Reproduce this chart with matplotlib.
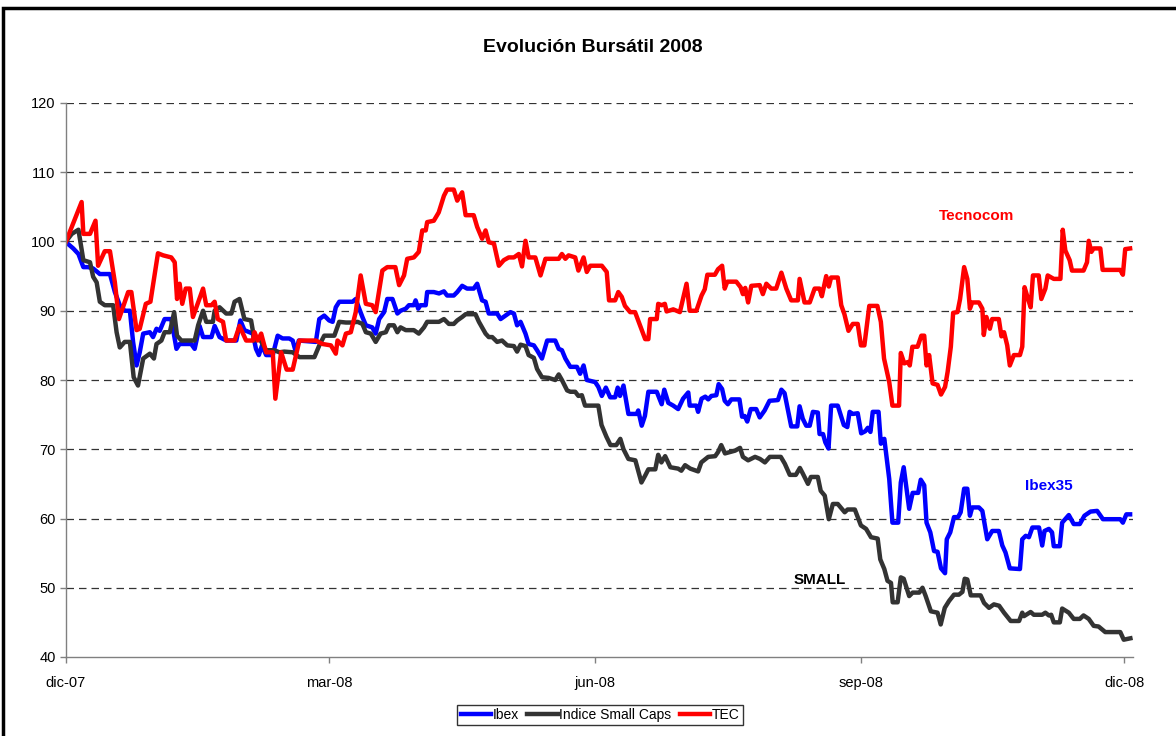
import matplotlib
matplotlib.use("Agg")
import matplotlib.pyplot as plt
from matplotlib.patches import Rectangle
import pandas as pd

plt.rcParams["font.family"] = ["Liberation Sans", "DejaVu Sans"]

START = pd.Timestamp("2007-12-01")

# days since 1-dic-2007 (base 100)
ibex_days = [0, 2.5, 4.3, 6, 7.7, 9.4, 11.7, 15.2, 16.9, 18.6, 20.3, 22.1, 23.2, 24.4, 25.5, 26.7, 29.0, 30.1,
             31.3, 32.4, 34.1, 36.4, 38.2, 39.3, 43.3, 44.5, 46.2, 47.4, 50.3, 51.4, 53.1, 55.4, 58.9, 60.3,
             61.7, 64.6, 65.7, 66.7, 67.8, 69.2, 71.5, 73.2, 74.9, 77.2, 78.4, 79.5, 80.5, 86.4, 87.6, 89.3,
             91.0, 92.2, 93.3, 94.5, 99.1, 100.2, 101.4, 102.5, 103.7, 105.9, 107.1, 108.3, 110.0, 111.1,
             112.9, 114.6, 115.7, 117.5, 118.6, 120.3, 120.9, 121.8, 122.6, 124.4, 124.9, 127.2, 129.0,
             130.7, 131.8, 134.1, 135.3, 137.0, 138.7, 141.0, 142.2, 143.9, 145.1, 146.2, 149.1, 150.3,
             152.0, 153.7, 154.9, 156.0, 157.2, 158.9, 160.0, 161.8, 162.9, 164.6, 166.4, 169.2, 170.4,
             171.5, 172.7, 174.4, 176.7, 177.8, 179.0, 180.1, 183.0, 184.1, 185.3, 186.7, 188.2, 189.9,
             190.8, 191.6, 192.8, 194.5, 197.4, 197.9, 199.1, 200.2, 201.4, 204.3, 206.0, 206.9, 208.3,
             210.0, 211.7, 213.4, 215.2, 215.7, 218.0, 218.6, 219.8, 221.1, 222.1, 223.2, 224.9, 225.7,
             226.9, 227.8, 228.9, 230.1, 232.9, 233.8, 234.7, 235.6, 236.8, 238.7, 239.9, 241.6, 243.3,
             246.2, 247.4, 248.5, 249.7, 250.8, 252.9, 253.7, 254.8, 256.0, 257.2, 258.3, 260.0, 260.6,
             261.8, 262.6, 263.7, 264.6, 266.9, 269.0, 270.2, 271.0, 272.1, 273.8, 275.0, 276.4, 277.3,
             278.2, 279.0, 281.0, 281.8, 283.0, 284.7, 285.8, 287.8, 288.7, 289.7, 291.6, 292.8, 294.7,
             295.6, 296.8, 297.6, 298.9, 300.2, 301.4, 302.6, 304.0, 304.6, 305.8, 307.1, 308.5, 309.4,
             310.6, 311.7, 312.6, 313.4, 315.7, 316.9, 318.6, 320.3, 322.6, 323.8, 324.9, 326.4, 329.9,
             330.7, 331.9, 333.0, 334.2, 336.5, 337.6, 338.4, 339.9, 341.0, 341.6, 343.7, 344.5, 346.8,
             348.5, 350.6, 352.2, 354.3, 356.6, 358.6, 364.6, 365.5, 366.7, 368.0]
ibex_vals = [99.9, 99.0, 98.2, 96.3, 96.3, 96.1, 95.3, 95.3, 92.7, 90.8, 90.0, 90.0, 85.5, 82.1, 84.0, 86.7, 86.9, 86.2,
             87.4, 87.1, 88.8, 88.8, 84.5, 85.2, 85.2, 84.5, 87.8, 86.2, 86.2, 87.8, 86.2, 85.7, 85.7, 88.6,
             87.2, 86.7, 84.5, 83.6, 85.0, 83.6, 83.6, 86.4, 86.0, 86.0, 85.7, 84.0, 85.7, 85.5, 88.8, 89.3,
             88.6, 88.4, 90.5, 91.3, 91.3, 91.7, 90.3, 89.1, 87.9, 87.6, 86.7, 88.8, 89.8, 91.7,
             91.7, 89.6, 90.0, 90.3, 90.8, 90.8, 91.5, 90.3, 90.8, 90.8, 92.7, 92.7, 92.5,
             92.8, 92.2, 92.2, 92.7, 93.6, 93.2, 93.2, 93.9, 91.5, 91.3, 89.6, 89.6, 88.8,
             89.3, 89.8, 89.6, 87.9, 88.4, 86.7, 85.2, 85.0, 84.3, 83.1, 85.7, 85.7, 84.5,
             84.3, 83.1, 81.9, 81.9, 80.9, 82.1, 80.0, 79.7, 79.0, 77.7, 78.9, 77.5, 77.5,
             78.9, 77.7, 79.2, 75.1, 75.1, 75.6, 73.4, 74.8, 78.3, 78.3, 76.5, 78.6, 76.7,
             76.3, 75.8, 77.3, 78.2, 76.3, 76.3, 75.4, 77.3, 77.6, 77.2, 77.7, 77.8, 79.4,
             78.7, 77.0, 76.5, 77.2, 77.2, 74.7, 74.8, 74.0, 75.8, 75.8, 74.6, 75.6, 77.0,
             77.1, 78.6, 78.1, 75.6, 73.3, 73.3, 76.2, 74.4, 73.4, 73.4, 75.4, 75.3, 72.2,
             72.2, 71.0, 70.1, 76.3, 76.3, 73.5, 73.2, 75.4, 75.1, 75.2, 72.3, 72.6, 73.1,
             72.5, 75.4, 75.4, 70.8, 71.5, 65.7, 59.4, 59.4, 65.2, 67.4, 61.4, 63.7, 63.7,
             65.6, 64.8, 59.4, 58.0, 55.3, 55.2, 52.8, 52.1, 57.0, 58.0, 60.2, 60.2, 60.9,
             64.3, 64.3, 60.4, 61.6, 61.6, 61.1, 57.0, 58.2, 58.2, 56.1, 55.1, 52.8, 52.7,
             57.0, 57.5, 57.3, 58.7, 58.7, 56.1, 58.2, 58.5, 58.0, 56.0, 56.0, 59.4, 60.5,
             59.2, 59.2, 60.4, 61.0, 61.1, 59.9, 59.9, 59.4, 60.6, 60.6]

small_days = [0, 2.0, 4.3, 6, 8.3, 9.4, 10.6, 11.7, 13.4, 16.3, 17.5, 18.6, 20.3, 22.1, 23.4, 24.9, 26.7, 29.0,
              30.4, 31.3, 33.0, 34.1, 35.9, 37.4, 38.4, 39.9, 44.5, 45.7, 47.4, 48.5, 50.8, 51.4, 53.1, 55.4,
              57.2, 58.3, 60.0, 61.7, 64.0, 65.2, 66.9, 69.2, 72.0, 73.8, 75.5, 78.4, 80.7, 85.9, 87.6, 89.3,
              91.0, 92.8, 94.5, 96.8, 99.1, 100.8, 102.5, 103.7, 105.4, 107.1, 108.8, 110.6, 111.7, 113.4,
              114.6, 115.7, 117.5, 120.3, 122.0, 123.8, 124.9, 129.0, 130.7, 132.4, 134.1, 135.3, 137.0,
              138.2, 141.6, 142.8, 143.9, 145.1, 146.2, 147.4, 149.1, 150.8, 152.6, 154.9, 156.0, 157.2,
              158.9, 160.0, 161.8, 162.9, 164.6, 166.9, 169.2, 170.4, 171.5, 173.3, 174.4, 176.1, 177.2,
              178.4, 179.5, 180.7, 184.1, 185.2, 186.9, 188.3, 190.3, 191.7, 192.8, 194.5, 196.9, 199.0,
              200.3, 201.4, 203.8, 204.8, 205.9, 207.2, 209.0, 211.7, 212.8, 214.1, 215.9, 218.6, 219.7,
              222.1, 224.5, 225.5, 226.6, 227.9, 229.7, 231.4, 233.1, 234.1, 235.9, 238.3, 240.0, 241.7,
              243.4, 247.2, 248.6, 250.3, 252.4, 253.8, 254.8, 256.6, 257.6, 260.0, 261.0, 262.4, 263.8,
              265.2, 266.9, 269.3, 270.3, 272.8, 274.9, 276.7, 278.4, 280.7, 281.6, 283.0, 284.1, 285.3,
              285.9, 287.6, 288.7, 289.7, 291.6, 292.8, 295.1, 296.2, 297.3, 299.1, 301.4, 302.5, 303.9,
              305.4, 307.1, 308.8, 310.0, 310.8, 311.7, 312.9, 316.3, 317.5, 319.2, 320.9, 322.7, 324.4,
              326.7, 329.6, 330.7, 331.3, 333.6, 334.7, 337.6, 338.7, 339.9, 340.7, 341.6, 343.7, 344.5,
              346.8, 348.5, 350.6, 351.9, 353.7, 355.4, 357.1, 359.4, 364.6, 365.8, 368.1]
small_vals = [100.0, 101.1, 101.7, 97.3, 97.0, 94.9, 94.1, 91.3, 90.8, 90.8, 86.9, 84.7, 85.5, 85.5, 80.4, 79.2, 83.1, 83.8,
              83.1, 85.2, 85.7, 86.9, 86.9, 89.8, 86.4, 85.7, 85.7, 87.9, 90.0, 88.4, 88.4, 90.0, 90.5, 89.6,
              89.6, 91.3, 91.7, 88.8, 88.6, 85.7, 86.0, 84.3, 84.3, 84.0, 84.1, 84.0, 83.3, 83.3, 85.0, 86.4,
              86.4, 86.4, 88.4, 88.3, 88.3, 88.4, 88.1, 86.9, 86.7, 85.5, 86.7, 86.9, 87.9, 87.9,
              86.9, 87.6, 87.2, 87.2, 86.7, 87.6, 88.4, 88.4, 88.8, 88.1, 88.1, 88.6, 89.1,
              89.5, 89.5, 88.4, 87.6, 86.7, 86.2, 86.2, 85.5, 85.7, 85.0, 84.9, 84.1, 85.1,
              84.9, 83.6, 83.2, 81.6, 80.4, 80.3, 80.0, 80.8, 80.0, 78.5, 78.3, 78.3, 77.7,
              77.8, 76.3, 76.3, 76.3, 73.5, 71.8, 70.6, 70.6, 71.5, 70.0, 68.6, 68.4, 65.2,
              66.2, 67.1, 67.1, 69.2, 68.1, 69.0, 67.4, 67.2, 66.9, 67.7, 67.2, 66.8, 68.1,
              68.9, 69.0, 69.6, 70.6, 69.4, 69.6, 69.8, 70.2, 68.9, 68.4, 68.9, 68.6, 68.1,
              68.9, 68.9, 67.9, 66.3, 66.3, 67.3, 66.5, 65.0, 66.0, 66.0, 64.0, 63.3, 59.9,
              62.1, 62.1, 60.9, 61.3, 61.3, 59.0, 58.5, 57.3, 57.1, 54.1, 52.7, 51.0, 50.7,
              47.9, 47.9, 51.5, 51.3, 48.8, 49.3, 49.3, 50.0, 48.8, 46.6, 46.4, 44.7, 47.1,
              48.1, 49.0, 49.0, 49.4, 51.3, 51.2, 48.9, 48.9, 47.8, 47.1, 47.6, 47.4, 46.4,
              45.2, 45.2, 46.4, 45.9, 46.5, 46.1, 46.1, 46.4, 46.0, 46.1, 45.0, 45.0, 47.0,
              46.4, 45.5, 45.5, 46.0, 45.5, 44.5, 44.4, 43.6, 43.6, 42.5, 42.7]

tec_days = [0, 5.4, 6, 8.3, 10.2, 11.1, 13.4, 15.2, 16.9, 18.3, 21.5, 22.6, 24.4, 25.5, 27.6, 29.2, 31.8, 33.6,
            36.4, 37.6, 38.4, 39.3, 40.2, 41.4, 42.8, 43.9, 47.4, 48.5, 50.3, 51.4, 52.5, 54.3, 55.4, 58.3,
            60, 62.3, 64.6, 65.2, 66.3, 67.5, 69.2, 71.5, 72.4, 74.4, 76.3, 78.4, 80.7, 86.4, 88.7, 91.6,
            93.3, 93.9, 95.6, 96.8, 98.5, 100.2, 101.9, 103.7, 105.9, 107.1, 109.4, 111.1, 113.9, 115.2,
            116.9, 118.0, 120.3, 122.0, 123.2, 124.4, 124.9, 127.2, 128.9, 130.7, 131.8, 134.1, 135.3,
            137.0, 138.2, 141.0, 142.2, 143.9, 145.1, 146.2, 148.0, 149.7, 151.4, 153.1, 154.9, 156.6,
            157.7, 158.9, 160.0, 162.3, 164.1, 165.8, 170.4, 171.5, 172.7, 173.8, 176.1, 177.2, 179.0,
            180.1, 181.3, 183.6, 185.3, 187.0, 187.8, 189.9, 191.0, 192.2, 193.3, 195.1, 196.8, 198.5,
            200.3, 201.4, 202.0, 204.3, 204.8, 206.0, 207.1, 207.7, 210.0, 212.3, 214.6, 215.7, 218.0,
            219.8, 220.9, 221.8, 224.4, 225.5, 226.9, 227.8, 228.7, 231.8, 233.3, 234.1, 234.9, 235.9,
            237.0, 239.9, 241.0, 242.2, 243.9, 245.6, 247.4, 249.1, 250.8, 253.1, 253.7, 255.4, 257.2,
            258.9, 260.6, 261.4, 262.9, 263.8, 264.6, 266.9, 268.1, 269.2, 270.6, 272.1, 273.8, 274.9,
            276.1, 277.8, 280.6, 281.8, 282.9, 284.7, 285.8, 288.1, 288.7, 289.9, 291.2, 291.8, 292.7,
            294.5, 295.8, 296.8, 297.6, 298.5, 299.7, 301.4, 302.6, 304.0, 304.9, 306.0, 306.8, 308.3,
            309.2, 310.6, 311.7, 312.6, 313.4, 315.7, 316.9, 317.4, 318.3, 319.5, 320.3, 322.6, 323.5,
            324.4, 325.5, 326.4, 327.8, 329.9, 330.7, 331.5, 332.7, 333.6, 334.4, 336.4, 337.3, 338.7,
            339.5, 341.6, 343.9, 344.7, 345.6, 347.1, 347.9, 351.9, 353.1, 353.7, 354.6, 355.4, 357.7,
            358.5, 364.6, 365.5, 366.3, 368.0]
tec_vals = [100.0, 105.7, 101.1, 101.1, 103.0, 96.5, 98.6, 98.6, 94.1, 88.8, 92.7, 92.7, 87.2, 87.4, 91.0, 91.3, 98.3, 98.0,
            97.7, 97.0, 91.7, 93.9, 91.0, 93.2, 93.2, 89.1, 93.2, 90.8, 90.8, 91.3, 88.8, 88.4, 85.7, 85.7,
            87.8, 85.7, 85.7, 86.9, 85.7, 86.7, 84.0, 84.0, 77.3, 84.0, 81.5, 81.5, 85.7, 85.7, 85.2, 85.0,
            83.8, 85.7, 85.0, 86.7, 86.9, 89.8, 95.1, 91.0, 90.8, 89.8, 95.8, 96.3, 96.3, 93.7,
            95.1, 97.5, 97.7, 98.5, 101.6, 101.6, 102.8, 103.0, 104.2, 106.6, 107.5, 107.5, 105.9,
            107.1, 103.8, 103.8, 102.1, 100.4, 101.6, 99.9, 99.7, 96.5, 97.3, 97.7, 97.7, 98.2,
            96.4, 100.1, 97.7, 97.7, 95.1, 97.5, 97.5, 98.2, 97.5, 98.0, 97.7, 95.8, 97.7,
            95.6, 96.5, 96.5, 96.5, 95.6, 91.5, 91.5, 92.7, 92.0, 90.7, 89.8, 89.8, 87.9,
            85.9, 85.9, 88.8, 88.8, 91.0, 90.8, 91.0, 89.9, 90.2, 89.8, 93.9, 90.0, 90.0,
            92.2, 93.1, 95.2, 95.2, 96.0, 96.5, 93.2, 94.2, 94.2, 93.4, 92.4, 93.3, 91.2,
            93.6, 93.7, 92.4, 93.9, 93.2, 93.2, 95.5, 93.2, 91.5, 91.5, 94.6, 91.2, 91.2,
            93.2, 93.2, 92.1, 95.0, 93.5, 94.8, 94.8, 90.8, 89.5, 87.1, 88.1, 88.1, 85.0,
            85.0, 90.7, 90.7, 88.4, 83.1, 79.7, 76.3, 76.3, 83.9, 82.4, 82.6, 82.1, 84.8,
            84.8, 86.4, 86.4, 82.1, 83.6, 79.5, 79.3, 77.9, 79.0, 81.2, 84.8, 89.7, 89.8,
            91.7, 96.3, 94.6, 90.3, 91.2, 91.2, 90.3, 86.5, 89.1, 87.4, 88.8, 88.8, 86.3,
            86.9, 85.0, 82.1, 83.6, 83.6, 84.8, 93.4, 91.7, 90.5, 95.1, 95.1, 91.7, 93.2,
            95.1, 94.6, 94.6, 101.7, 98.7, 97.3, 95.8, 95.8, 97.0, 100.1, 98.5, 99.0, 99.0,
            95.9, 95.9, 95.2, 98.9, 99.0]

tick_dates = ["2007-12-01", "2008-03-01", "2008-06-01", "2008-09-01", "2008-12-01"]
tick_labels = ["dic-07", "mar-08", "jun-08", "sep-08", "dic-08"]


def to_dates(days):
    return START + pd.to_timedelta(days, unit="D")


fig = plt.figure(figsize=(11.76, 7.36), dpi=100)
ax = fig.add_axes([66 / 1176, 1 - 657 / 736, (1133 - 66) / 1176, (657 - 103) / 736])

ax.plot(to_dates(ibex_days), ibex_vals, color="#0000FF", linewidth=3.2, label="Ibex")
ax.plot(to_dates(small_days), small_vals, color="#333333", linewidth=3.2, label="Indice Small Caps")
ax.plot(to_dates(tec_days), tec_vals, color="#FF0000", linewidth=3.2, label="TEC")

ax.set_ylim(40, 120)
ax.set_yticks(range(40, 121, 10))
ax.set_xlim(START, START + pd.Timedelta(days=369))
ax.set_xticks(pd.to_datetime(tick_dates))
ax.set_xticklabels(tick_labels)

for v in range(50, 121, 10):
    ax.axhline(v, color="#333333", linewidth=0.9, dashes=(6, 4), zorder=0)

for s in ("top", "right"):
    ax.spines[s].set_visible(False)
for s in ("left", "bottom"):
    ax.spines[s].set_color("#808080")
    ax.spines[s].set_linewidth(1)
ax.tick_params(axis="both", colors="#808080", labelcolor="black", labelsize=10.5, length=4, width=1)
ax.tick_params(axis="x", pad=10)

ax.text(to_dates([315])[0], 103.7, "Tecnocom", color="#FF0000", fontsize=11, fontweight="bold", ha="center", va="center")
ax.text(to_dates([340])[0], 64.7, "Ibex35", color="#0000FF", fontsize=11, fontweight="bold", ha="center", va="center")
ax.text(to_dates([260.7])[0], 51.1, "SMALL", color="black", fontsize=11, fontweight="bold", ha="center", va="center")

fig.text(593 / 1176, 1 - 47 / 736, "Evolución Bursátil 2008", fontsize=14, fontweight="bold", ha="center", va="center")

leg = fig.legend(loc="center", bbox_to_anchor=(600 / 1176, 1 - 715 / 736), ncol=3, fontsize=10,
                 frameon=True, fancybox=False, handlelength=2.2, handletextpad=0.1, columnspacing=0.6,
                 borderpad=0.25)
leg.get_frame().set_edgecolor("black")
leg.get_frame().set_linewidth(1)

fig.patches.append(Rectangle((3 / 1176, -0.2), 1.2, 1.2 - 8 / 736,
                             transform=fig.transFigure, fill=False, edgecolor="black", linewidth=2.5))

fig.savefig("out.png", dpi=100)
